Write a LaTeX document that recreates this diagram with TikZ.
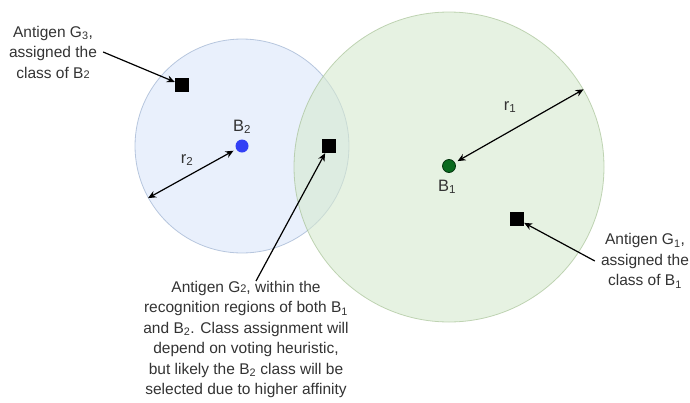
\documentclass[tikz,border=0pt]{standalone}
\usepackage{fontspec}
\setmainfont{Liberation Sans}
\usetikzlibrary{positioning,arrows.meta}
\definecolor{regblue}{HTML}{DAE6FA}
\definecolor{edgeblue}{HTML}{8FA6C8}
\definecolor{reggreen}{HTML}{D6E9CF}
\definecolor{edgegreen}{HTML}{9DBB8A}
\definecolor{dotblue}{HTML}{3340F5}
\definecolor{dotgreen}{HTML}{0A6A1E}
\definecolor{txtgray}{HTML}{333333}

\tikzset{
  region/.style={circle, inner sep=0pt, fill opacity=0.6, draw opacity=0.6, line width=0.8pt},
  antigen/.style={rectangle, fill=black, minimum size=14pt, inner sep=0pt},
  cell/.style={circle, minimum size=13pt, inner sep=0pt},
  note/.style={align=center, text=txtgray, inner sep=6pt, font=\fontsize{15.5}{20.5}\selectfont},
  tag/.style={text=txtgray, inner sep=0pt, font=\fontsize{16.5}{18}\selectfont},
  pointer/.style={-{Stealth[length=8pt,width=7pt]}, line width=1.2pt},
  span/.style={{Stealth[length=8pt,width=7pt]}-{Stealth[length=8pt,width=7pt]}, line width=1.2pt},
}

\begin{document}
\begin{tikzpicture}[x=1pt, y=-1pt]
  \useasboundingbox (0,0) rectangle (690,402);
  \node[region, fill=regblue, draw=edgeblue, minimum size=214pt] (reg2) at (242,146) {};
  \node[region, fill=reggreen, draw=edgegreen, minimum size=310pt] (reg1) at (449,167) {};

  \node[cell, fill=dotblue] (b2) at (242,146) {};
  \node[cell, fill=dotgreen, draw=black!50!dotgreen, line width=0.8pt] (b1) at (449,166) {};
  \node[tag] (b2lbl) at (242,127) {B\textsubscript{2}};
  \node[tag] (b1lbl) at (447,187) {B\textsubscript{1}};
  \node[tag] (r2lbl) at (187,160) {r\textsubscript{2}};
  \node[tag] (r1lbl) at (510,107) {r\textsubscript{1}};

  \foreach \n/\x/\y in {g3/182/85, g2/329/146, g1/517/219}
    \node[antigen] (\n) at (\x,\y) {};

  \node[note] (g3note) at (53,52) {Antigen G\textsubscript{3},\\assigned the\\class of B{\fontsize{11}{11}\selectfont 2}};
  \node[note] (g1note) at (645,261) {Antigen G\textsubscript{1},\\assigned the\\class of B\textsubscript{1}};
  \node[note] (g2note) at (246,339.5) {Antigen G{\fontsize{11}{11}\selectfont 2}, within the\\recognition regions of both B\textsubscript{1}\\and B\textsubscript{2}. Class assignment will\\depend on voting heuristic,\\but likely the B\textsubscript{2} class will be\\selected due to higher affinity};
  \coordinate (g2tail) at (256,281);

  \draw[span, shorten <=3pt] (b2) -- (reg2.209.5);
  \draw[span, shorten <=3pt] (b1) -- (reg1.30);
  \draw[pointer] (g3note.east) -- (g3);
  \draw[pointer] (g1note.west) -- (g1);
  \draw[pointer] (g2tail) -- (g2);
\end{tikzpicture}
\end{document}
